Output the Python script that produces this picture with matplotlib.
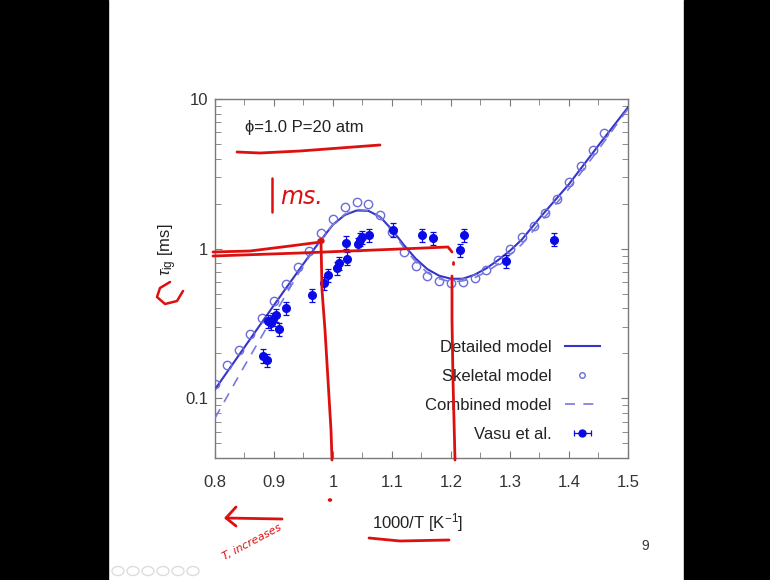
import numpy as np
import matplotlib
matplotlib.use('Agg')
import matplotlib.pyplot as plt
from matplotlib.lines import Line2D
from matplotlib.patches import Rectangle, Circle
from matplotlib.ticker import FixedLocator, LogLocator, NullFormatter

plt.rcParams['font.family'] = ['Liberation Sans', 'DejaVu Sans']
plt.rcParams['mathtext.fontset'] = 'custom'
plt.rcParams['mathtext.rm'] = 'Liberation Sans'
plt.rcParams['mathtext.it'] = 'Liberation Sans:italic'

# ---- data ----
det_x = [0.80, 0.85, 0.90, 0.94, 0.97, 1.00, 1.02, 1.04, 1.06, 1.08, 1.10, 1.12, 1.14,
         1.16, 1.18, 1.20, 1.22, 1.24, 1.26, 1.28, 1.30, 1.32, 1.35, 1.40, 1.45, 1.50]
det_y = [0.115, 0.22, 0.42, 0.70, 1.02, 1.45, 1.68, 1.80, 1.79, 1.63, 1.34, 1.06, 0.86,
         0.73, 0.66, 0.63, 0.63, 0.67, 0.74, 0.84, 0.97, 1.15, 1.60, 2.70, 4.90, 8.80]

skel_x = [0.80, 0.82, 0.84, 0.86, 0.88, 0.90, 0.92, 0.94, 0.96, 0.98, 1.00, 1.02, 1.04,
          1.06, 1.08, 1.10, 1.12, 1.14, 1.16, 1.18, 1.20, 1.22, 1.24, 1.26, 1.28, 1.30,
          1.32, 1.34, 1.36, 1.38, 1.40, 1.42, 1.44, 1.46]
skel_y = [0.125, 0.168, 0.212, 0.271, 0.347, 0.45, 0.58, 0.75, 0.97, 1.28, 1.58, 1.90, 2.05,
          2.00, 1.68, 1.30, 0.95, 0.77, 0.66, 0.61, 0.59, 0.60, 0.64, 0.72, 0.84, 1.00,
          1.20, 1.42, 1.74, 2.15, 2.80, 3.57, 4.57, 5.90]

comb_x = [0.80, 0.85, 0.90, 0.94, 0.97, 1.00, 1.02, 1.04, 1.06, 1.08, 1.10, 1.12, 1.14,
          1.16, 1.18, 1.20, 1.22, 1.24, 1.26, 1.28, 1.30, 1.32, 1.35, 1.40, 1.45, 1.50]
comb_y = [0.074, 0.165, 0.36, 0.67, 1.02, 1.45, 1.70, 1.83, 1.80, 1.62, 1.31, 1.02, 0.82,
          0.69, 0.63, 0.60, 0.61, 0.64, 0.70, 0.79, 0.91, 1.07, 1.48, 2.52, 4.60, 8.60]

vasu_x = [0.881, 0.888, 0.890, 0.895, 0.899, 0.903, 0.908, 0.920, 0.964, 0.985, 0.991,
          1.007, 1.010, 1.022, 1.024, 1.042, 1.045, 1.049, 1.061, 1.102, 1.151, 1.169,
          1.215, 1.222, 1.293, 1.375]
vasu_y = [0.193, 0.180, 0.33, 0.32, 0.34, 0.36, 0.29, 0.40, 0.49, 0.59, 0.67,
          0.74, 0.80, 1.10, 0.86, 1.08, 1.15, 1.20, 1.24, 1.34, 1.24, 1.18,
          0.98, 1.24, 0.83, 1.15]
vasu_rel_err = 0.1

xticks = [0.8, 0.9, 1.0, 1.1, 1.2, 1.3, 1.4, 1.5]
xticklabels = ['0.8', '0.9', '1', '1.1', '1.2', '1.3', '1.4', '1.5']
yticks = [0.1, 1, 10]
yticklabels = ['0.1', '1', '10']

W, H = 770, 580
fig = plt.figure(figsize=(7.7, 5.8), dpi=100)
fig.patch.set_facecolor('white')

ax = fig.add_axes([215 / W, 1 - 458 / H, 413 / W, 359 / H])
ax.set_yscale('log')
ax.set_xlim(0.8, 1.5)
ax.set_ylim(0.04, 10)

blue = '#3535c8'
ax.plot(det_x, det_y, color=blue, lw=1.5, label='Detailed model', zorder=3)
ax.plot(skel_x, skel_y, 'o', mfc='none', mec='#6b6bdc', mew=1.0, ms=6, zorder=3)
ax.plot(comb_x, comb_y, color='#7878e0', lw=1.2, dashes=(6, 5), zorder=3)
vasu_y = np.array(vasu_y)
ax.errorbar(vasu_x, vasu_y, yerr=vasu_rel_err * vasu_y, fmt='o', color='#0a0ae6',
            ms=5.5, elinewidth=0.9, capsize=2.5, capthick=0.9, zorder=4)

# legend handles
h_det = Line2D([], [], color=blue, lw=1.5)
h_skel = Line2D([], [], ls='none', marker='o', mfc='none', mec='#6b6bdc', mew=1.0, ms=4)
h_comb = Line2D([], [], color='#7878e0', lw=1.2, dashes=(6, 5))
h_vasu = ax.errorbar([np.nan], [np.nan], xerr=[0.1], fmt='o', color='#0a0ae6',
                     ms=5, elinewidth=0.9, capsize=2.5, capthick=0.9)
ax.legend([h_det, h_skel, h_comb, h_vasu],
          ['Detailed model', 'Skeletal model', 'Combined model', 'Vasu et al.'],
          loc='lower right', bbox_to_anchor=(0.932, 0.044), markerfirst=False,
          frameon=False, fontsize=12, labelspacing=0.85, handlelength=2.1,
          handletextpad=0.8, borderpad=0, borderaxespad=0, labelcolor='#222222')

# axes styling, gnuplot look
frame = '#7a7a7a'
for s in ax.spines.values():
    s.set_color(frame)
    s.set_linewidth(1.0)
ax.set_xticks(xticks)
ax.set_xticklabels(xticklabels)
ax.xaxis.set_minor_locator(FixedLocator(np.arange(0.85, 1.5, 0.1)))
ax.yaxis.set_major_locator(FixedLocator(yticks))
ax.set_yticklabels(yticklabels)
ax.yaxis.set_minor_locator(LogLocator(base=10, subs=np.arange(2, 10)))
ax.yaxis.set_minor_formatter(NullFormatter())
ax.tick_params(which='both', direction='in', top=True, right=True, color=frame,
               labelsize=12, labelcolor='#333333')
ax.tick_params(which='major', length=5)
ax.tick_params(which='minor', length=4)
ax.tick_params(axis='x', which='both', pad=12)
ax.tick_params(axis='y', which='both', pad=5)

ax.set_xlabel('1000/T [K$^{-1}$]', fontsize=12, color='#222222')
ax.xaxis.set_label_coords(0.49, -0.148)
ax.set_ylabel(r'$\tau_{\rm ig}$ [ms]', fontsize=12, color='#222222')
ax.yaxis.set_label_coords(-0.088, 0.58)

ax.text(0.073, 0.922, 'ϕ=1.0 P=20 atm', transform=ax.transAxes, fontsize=12,
        va='center', color='#222222')

# slide furniture
fig.text(645 / W, 1 - 546 / H, '9', fontsize=10, color='#333333', ha='center', va='center')
fig.add_artist(Rectangle((0, 0), 108 / W, 1, transform=fig.transFigure,
                         color='black', zorder=10))
fig.add_artist(Rectangle((684 / W, 0), 1 - 684 / W, 1, transform=fig.transFigure,
                         color='black', zorder=10))
for cx in [118, 133, 148, 163, 178, 193]:
    fig.add_artist(Circle((cx / W, 1 - 571 / H), 6 / W, transform=fig.transFigure,
                          fill=False, ec='#dddddd', lw=1))

# handwritten red annotations
red = '#dd1010'


def stroke(pts, lw=2.0):
    xs = [p[0] / W for p in pts]
    ys = [1 - p[1] / H for p in pts]
    fig.add_artist(Line2D(xs, ys, color=red, lw=lw, solid_capstyle='round',
                          solid_joinstyle='round', zorder=6))


stroke([(237, 152), (260, 153), (300, 151), (340, 148), (380, 145)])
stroke([(272, 178), (272, 212)], lw=1.8)
fig.text(280 / W, 1 - 197 / H, 'ms.', fontsize=17, color=red, style='italic',
         va='center', family='DejaVu Sans')
stroke([(213, 252), (250, 251), (290, 246), (321, 242)])
stroke([(213, 256), (300, 253), (400, 249), (448, 247), (452, 252)])
stroke([(321, 241), (322, 290), (325, 330), (328, 380), (331, 430), (332, 460)])
stroke([(453, 262), (453, 264)])
stroke([(452, 276), (452, 320), (453, 380), (455, 460)])
fig.add_artist(Circle((321 / W, 1 - 241 / H), 3 / W, transform=fig.transFigure,
                      color=red, zorder=6))
fig.add_artist(Circle((330 / W, 1 - 500 / H), 1.5 / W, transform=fig.transFigure,
                      color=red, zorder=6))
stroke([(226, 518), (282, 519)])
stroke([(236, 507), (226, 518), (236, 526)])
fig.text(252 / W, 1 - 542 / H, 'T, increases', fontsize=8, color=red, style='italic',
         rotation=28, ha='center', va='center', family='DejaVu Sans')
stroke([(369, 538), (400, 541), (449, 540)])
stroke([(170, 282), (160, 288), (157, 297), (165, 304), (177, 301), (183, 291)], lw=1.8)

fig.savefig('out.png', dpi=100, facecolor='white')
